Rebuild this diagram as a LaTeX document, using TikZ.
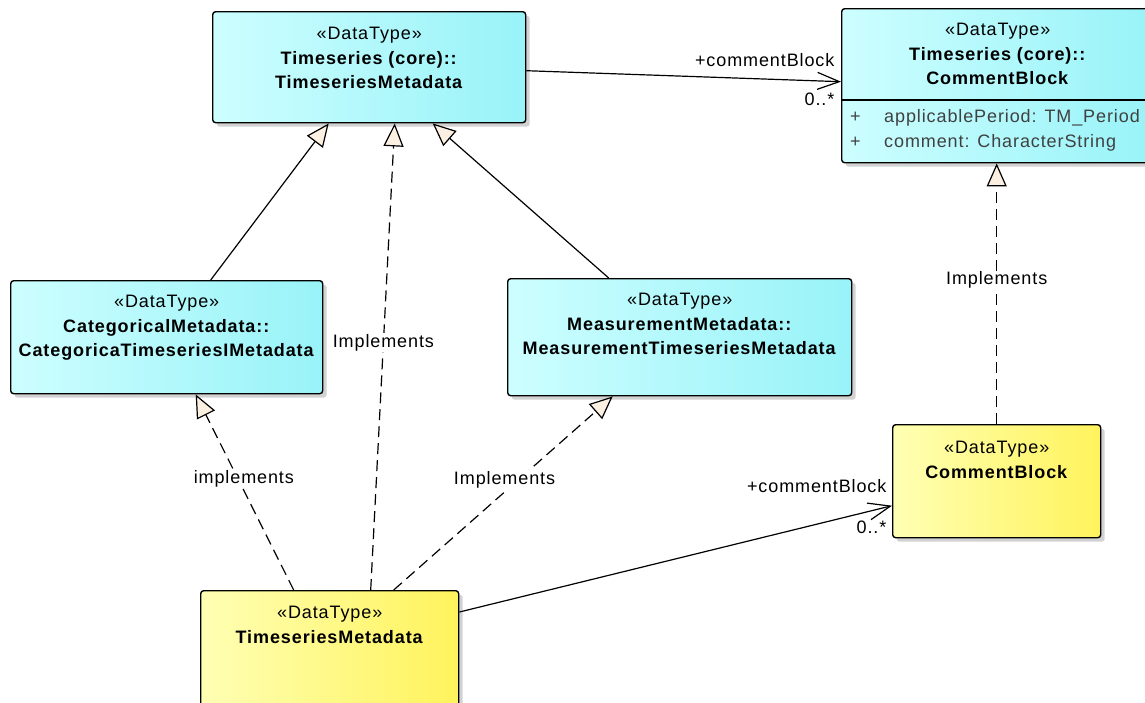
\documentclass[tikz,border=0pt]{standalone}
\usepackage{fontspec}
\setmainfont{Liberation Sans}[LetterSpace=5]
\usepackage{xcolor}
\definecolor{core-light}{HTML}{CDFEFF}
\definecolor{core-dark}{HTML}{98F3F8}
\definecolor{local-light}{HTML}{FFFFB4}
\definecolor{local-dark}{HTML}{FFF35C}
\definecolor{tip-cream}{HTML}{FBF0E1}
\definecolor{attr-grey}{HTML}{404040}
\usepackage{tikz}
\usetikzlibrary{arrows.meta,shadows,positioning}

\tikzset{
    dtbox/.style={draw=black, line width=1.4pt, rounded corners=3pt, anchor=north west,
        drop shadow={shadow xshift=4pt, shadow yshift=-4pt, fill=black!35, opacity=.5}},
    corebox/.style={dtbox, left color=core-light, right color=core-dark},
    localbox/.style={dtbox, left color=local-light, right color=local-dark},
    dttext/.style={align=center, anchor=north, inner sep=0pt, font=\fontsize{18}{24.5}\selectfont},
    attrtext/.style={anchor=west, inner sep=0pt, text=attr-grey, font=\fontsize{18}{20}\selectfont},
    edgelabel/.style={inner sep=1pt, font=\fontsize{18}{20}\selectfont},
    generalize/.style={-{Triangle[length=23pt,width=20pt,fill=tip-cream]}, line width=1.2pt},
    realize/.style={generalize, dash pattern=on 11pt off 6pt},
    assoc/.style={-{Straight Barb[length=22pt,width=17pt]}, line width=1.2pt}
}

\begin{document}
\begin{tikzpicture}[x=1pt, y=-1pt]

    \useasboundingbox (0,0) rectangle (1145,702);

    % Core types
    \node[corebox, minimum width=313pt, minimum height=111pt] (coreMeta) at (212,11) {};
    \node[dttext] (coreMetaText) at ([yshift=-16pt]coreMeta.north)
        {«DataType»\\\textbf{Timeseries (core)::}\\\textbf{TimeseriesMetadata}};

    \node[corebox, minimum width=312pt, minimum height=154pt] (coreBlock) at (841,8) {};
    \node[dttext] (coreBlockText) at ([yshift=-15pt]coreBlock.north)
        {«DataType»\\\textbf{Timeseries (core)::}\\\textbf{CommentBlock}};
    \draw[line width=1.2pt] ([yshift=-92pt]coreBlock.north west) -- ([yshift=-92pt]coreBlock.north east);
    \node[attrtext] (attrPeriod) at (850,118) {\makebox[34pt][l]{+}applicablePeriod: TM\_Period};
    \node[attrtext] (attrComment) at (850,143) {\makebox[34pt][l]{+}comment: CharacterString};

    % Categorical and measurement types
    \node[corebox, minimum width=312pt, minimum height=113pt] (catMeta) at (10,280) {};
    \node[dttext] (catMetaText) at ([yshift=-15pt]catMeta.north)
        {«DataType»\\\textbf{CategoricalMetadata::}\\\textbf{CategoricaTimeseriesIMetadata}};

    \node[corebox, minimum width=344pt, minimum height=117pt] (measMeta) at (507,278) {};
    \node[dttext] (measMetaText) at ([yshift=-15pt]measMeta.north)
        {«DataType»\\\textbf{MeasurementMetadata::}\\\textbf{MeasurementTimeseriesMetadata}};

    % Local types
    \node[localbox, minimum width=208pt, minimum height=113pt] (localBlock) at (892,424) {};
    \node[dttext] (localBlockText) at ([yshift=-17pt]localBlock.north)
        {«DataType»\\\textbf{CommentBlock}};

    \node[localbox, minimum width=258pt, minimum height=130pt] (localMeta) at (200,590) {};
    \node[dttext] (localMetaText) at ([yshift=-16pt]localMeta.north)
        {«DataType»\\\textbf{TimeseriesMetadata}};

    % Generalizations
    \draw[generalize] ([xshift=44pt]catMeta.north) -- ([xshift=-40.5pt]coreMeta.south);
    \draw[generalize] ([xshift=-71pt]measMeta.north) -- ([xshift=63.5pt]coreMeta.south);

    % Realizations
    \draw[realize] ([xshift=41pt]localMeta.north) -- ([xshift=25.5pt]coreMeta.south)
        node[edgelabel, fill=white, pos=.53] (implCore) {Implements};
    \draw[realize] ([xshift=-36pt]localMeta.north) -- ([xshift=29pt]catMeta.south)
        node[edgelabel, fill=white, pos=.57, xshift=6pt] (implCat) {implements};
    \draw[realize] ([xshift=64pt]localMeta.north) -- ([xshift=-67pt]measMeta.south)
        node[edgelabel, fill=white, pos=.57, xshift=-14pt] (implMeas) {Implements};
    \draw[realize] (localBlock.north) -- (localBlock.north |- coreBlock.south)
        node[edgelabel, fill=white, pos=.553] (implBlock) {Implements};

    % Associations
    \draw[assoc] ([yshift=-3.5pt]coreMeta.east) -- ([yshift=4pt]coreBlock.west)
        node[edgelabel, pos=1, anchor=base east, xshift=-5pt, yshift=15pt] (roleCore) {+commentBlock}
        node[edgelabel, pos=1, anchor=base east, xshift=-5pt, yshift=-24pt] (multCore) {0..*};
    \draw[assoc] ([yshift=-22pt]localMeta.north east) -- ([yshift=-24.5pt]localBlock.west)
        node[edgelabel, pos=1, anchor=base east, xshift=-4pt, yshift=13pt] (roleLocal) {+commentBlock}
        node[edgelabel, pos=1, anchor=base east, xshift=-4pt, yshift=-28pt] (multLocal) {0..*};

\end{tikzpicture}
\end{document}
